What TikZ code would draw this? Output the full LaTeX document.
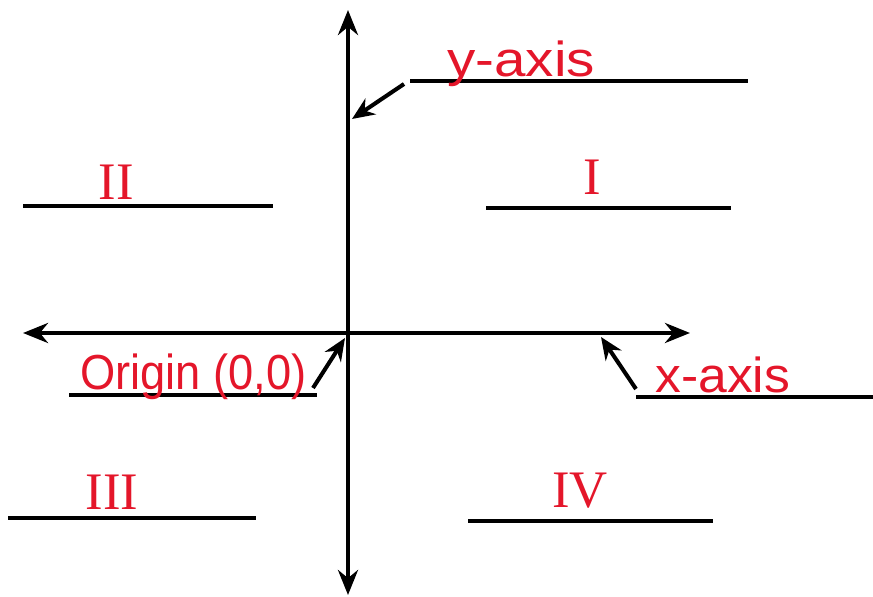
\documentclass[tikz,border=0pt]{standalone}
\usepackage{fontspec}
\setmainfont{Liberation Serif}
\newfontfamily\handfont{Liberation Sans}
\usetikzlibrary{arrows.meta}
\definecolor{penred}{RGB}{228,22,42}
\begin{document}
\begin{tikzpicture}[x=0.02cm,y=-0.02cm,
  ink/.style={line width=2.3pt,black},
  axisline/.style={ink,{Stealth[length=5mm,width=4mm]}-{Stealth[length=5mm,width=4mm]}},
  pointer/.style={ink,-{Stealth[length=4.5mm,width=3.8mm]}},
  blank/.style={line width=2.6pt,black},
  hand/.style={text=penred,font=\handfont\fontsize{28}{30}\selectfont,inner sep=0pt,anchor=base west},
  roman/.style={text=penred,font=\fontsize{30}{32}\selectfont,inner sep=0pt,anchor=base}]
\useasboundingbox (0,0) rectangle (873,597);
% axes
\coordinate (ytop) at (348,10);
\coordinate (ybot) at (348,595);
\coordinate (xleft) at (23,333);
\coordinate (xright) at (690,333);
\draw[axisline] (ybot) -- (ytop);
\draw[axisline] (xleft) -- (xright);
% blanks
\coordinate (yl1) at (410,81);  \coordinate (yl2) at (748,81);
\coordinate (l2a) at (23,206);  \coordinate (l2b) at (273,206);
\coordinate (l1a) at (486,208); \coordinate (l1b) at (731,208);
\coordinate (ola) at (69,395);  \coordinate (olb) at (317,395);
\coordinate (xla) at (636,397); \coordinate (xlb) at (873,397);
\coordinate (l3a) at (8,518);   \coordinate (l3b) at (256,518);
\coordinate (l4a) at (468,521); \coordinate (l4b) at (713,521);
\foreach \a/\b in {yl1/yl2,l2a/l2b,l1a/l1b,ola/olb,xla/xlb,l3a/l3b,l4a/l4b}
  \draw[blank] (\a) -- (\b);
% pointers
\coordinate (yp1) at (404,84);  \coordinate (yp2) at (352,119);
\coordinate (op1) at (313,388); \coordinate (op2) at (345,338);
\coordinate (xp1) at (636,389); \coordinate (xp2) at (601,337);
\draw[pointer] (yp1) -- (yp2);
\draw[pointer] (op1) -- (op2);
\draw[pointer] (xp1) -- (xp2);
% labels
\node[hand,xscale=1.15] (ylab) at (447,77) {y-axis};
\node[hand,xscale=0.92] (olab) at (80,390) {Origin (0,0)};
\node[hand,xscale=1.05] (xlab) at (655,393) {x-axis};
\node[roman] (q2) at (116,200) {II};
\node[roman] (q1) at (592,195) {I};
\node[roman] (q3) at (112,510) {III};
\node[roman] (q4) at (580,508) {IV};
\end{tikzpicture}
\end{document}
